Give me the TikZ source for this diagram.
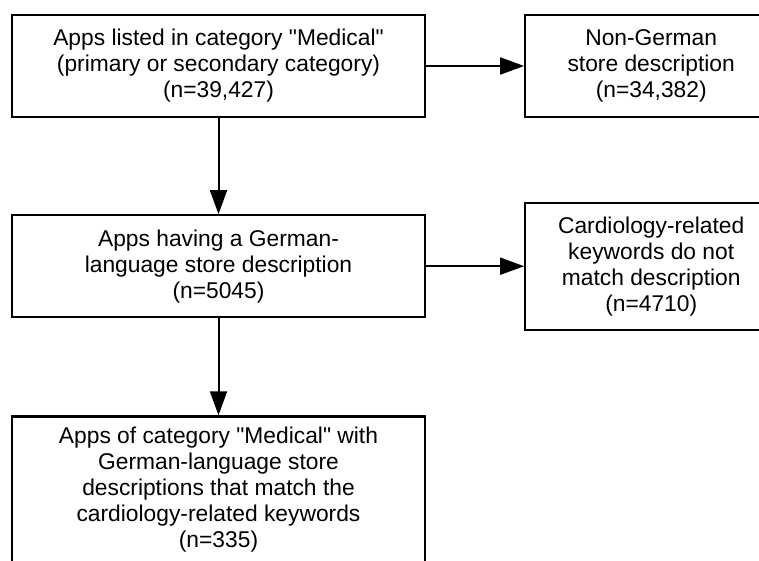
\documentclass[tikz,border=0pt]{standalone}
\usepackage{fontspec}
\setmainfont{Liberation Sans}[Ligatures=TeXOff]
\usetikzlibrary{positioning,arrows.meta}

\begin{document}
\begin{tikzpicture}[
    x=1pt,y=1pt,
    >={Triangle[length=24pt,width=17pt]},
    box/.style={draw,line width=2.2pt,align=center,inner sep=0pt,
        font=\fontsize{22.8}{26}\selectfont},
    wide/.style={box,minimum width=413pt},
    side/.style={box,minimum width=252pt},
    flow/.style={->,line width=2pt}
]
    \useasboundingbox (0,0) rectangle (759,-561);
    \clip (0,0) rectangle (759,-561);

    % Boxes
    \node[wide,minimum height=102pt] (medical) at (218.5,-66) {Apps listed in category "Medical"\\(primary or secondary category)\\(n=39,427)};
    \node[side,minimum height=102pt] (nongerman) [right=98pt of medical] {Non-German\\store description\\(n=34,382)};
    \node[wide,minimum height=102pt] (german) [below=96pt of medical] {Apps having a German-\\language store description\\(n=5045)};
    \node[side,minimum height=127pt] (nomatch) [right=98pt of german] {Cardiology-related\\keywords do not\\match description\\(n=4710)};
    \node[wide,minimum height=146pt] (matched) [below=97pt of german] {Apps of category "Medical" with\\German-language store\\descriptions that match the\\cardiology-related keywords\\(n=335)};

    % Arrows
    \draw[flow] (medical) -- (nongerman);
    \draw[flow] (medical) -- (german);
    \draw[flow] (german) -- (nomatch);
    \draw[flow] (german) -- (matched);
\end{tikzpicture}
\end{document}
